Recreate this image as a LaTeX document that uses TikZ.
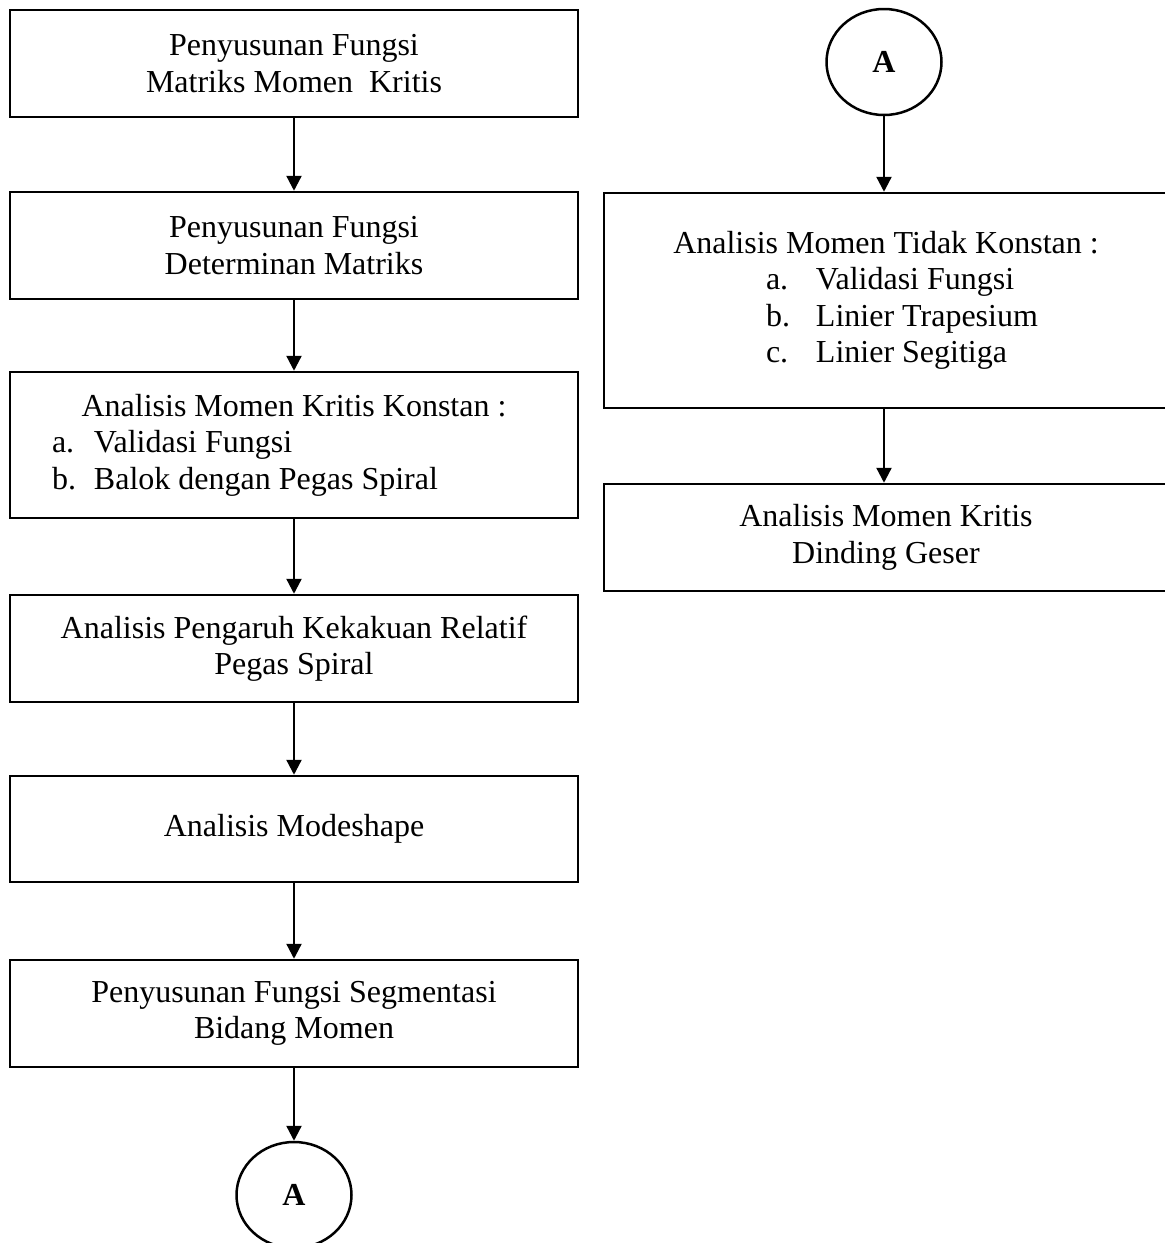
\documentclass[tikz,border=0pt]{standalone}
\usepackage{fontspec}
\setmainfont{Liberation Serif}
\usetikzlibrary{arrows.meta,shapes.geometric}
\begin{document}
\begin{tikzpicture}[x=1pt,y=-1pt,
  every node/.style={font=\fontsize{32}{36.5}\selectfont},
  box/.style={draw, line width=2.5pt, minimum width=568pt, inner sep=0pt, align=center},
  listbox/.style={box, align=left},
  rbox/.style={minimum width=564pt},
  flow/.style={line width=2.3pt, -{Triangle[length=15pt,width=15pt]}},
  offpage/.style={draw, ellipse, line width=2.5pt, minimum width=115pt, minimum height=106pt,
    inner sep=0pt, font=\fontsize{32}{36}\selectfont\bfseries}]
\useasboundingbox (0,0) rectangle (1165,1243);

% left column
\node[box, minimum height=107pt] (b1) at (294,63.5) {Penyusunan Fungsi\\Matriks Momen~~Kritis};
\node[box, minimum height=107pt] (b2) at (294,245.5) {Penyusunan Fungsi\\Determinan Matriks};
\node[listbox, minimum height=146pt] (b3) at (294,445)
  {\makebox[568pt][c]{Analisis Momen Kritis Konstan :}\\
   \hspace*{42pt}\makebox[42pt][l]{a.}Validasi Fungsi\\
   \hspace*{42pt}\makebox[42pt][l]{b.}Balok dengan Pegas Spiral};
\node[box, minimum height=107pt] (b4) at (294,648.5) {Analisis Pengaruh Kekakuan Relatif\\Pegas Spiral};
\node[box, minimum height=106pt] (b5) at (294,829) {Analisis Modeshape};
\node[box, minimum height=107pt] (b6) at (294,1013.5) {Penyusunan Fungsi Segmentasi\\Bidang Momen};
\node[offpage] (a1) at (294,1195) {A};

% right column
\node[offpage] (a2) at (884,62) {A};
\node[listbox, rbox, minimum height=215pt] (r1) at (886,300.5)
  {\makebox[564pt][c]{Analisis Momen Tidak Konstan :}\\
   \hspace*{162pt}\makebox[50pt][l]{a.}Validasi Fungsi\\
   \hspace*{162pt}\makebox[50pt][l]{b.}Linier Trapesium\\
   \hspace*{162pt}\makebox[50pt][l]{c.}Linier Segitiga};
\node[box, rbox, minimum height=107pt] (r2) at (886,537.5) {Analisis Momen Kritis\\Dinding Geser};

% connectors
\draw[flow] (b1) -- (b2);
\draw[flow] (b2) -- (b3);
\draw[flow] (b3) -- (b4);
\draw[flow] (b4) -- (b5);
\draw[flow] (b5) -- (b6);
\draw[flow] (b6) -- (a1);
\draw[flow] (a2) -- (a2 |- r1.north);
\draw[flow] (r1.south -| a2) -- (r2.north -| a2);
\end{tikzpicture}
\end{document}
